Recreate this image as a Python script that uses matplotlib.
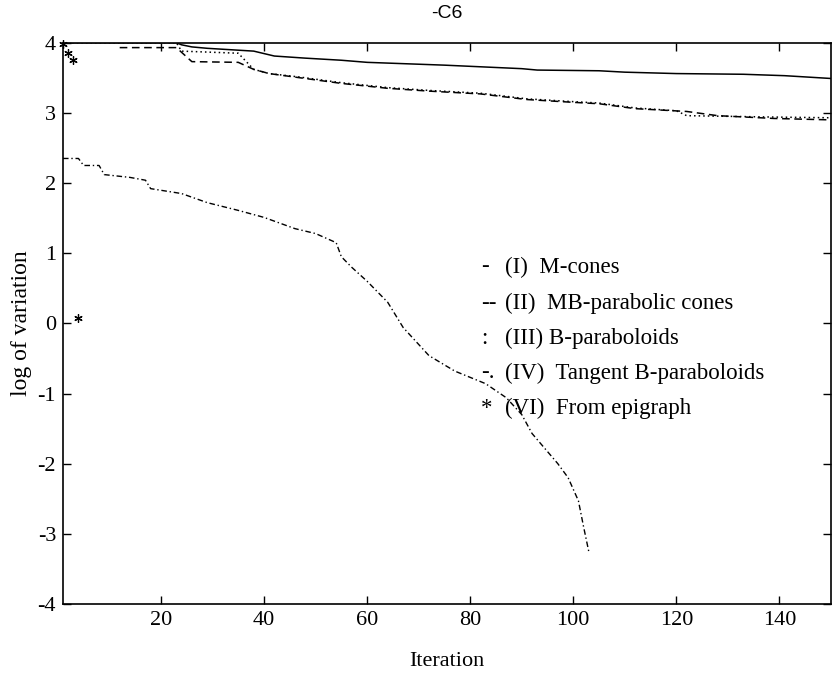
import matplotlib
matplotlib.use("Agg")
import matplotlib.pyplot as plt

plt.rcParams["axes.unicode_minus"] = False

# ---- data ----
iter_I = [1, 23, 24, 26, 29, 38, 42, 48, 55, 60, 75, 90, 93, 105, 110, 120, 133, 141, 150]
var_I = [4.0, 4.0, 3.97, 3.94, 3.92, 3.88, 3.81, 3.78, 3.75, 3.72, 3.68, 3.63, 3.61, 3.60, 3.58, 3.56, 3.55, 3.53, 3.49]

iter_II = [12, 23, 26, 35, 38, 41, 47, 55, 64, 72, 82, 91, 100, 105, 112, 122, 128, 139, 150]
var_II = [3.93, 3.93, 3.73, 3.72, 3.62, 3.56, 3.50, 3.42, 3.35, 3.31, 3.27, 3.19, 3.15, 3.13, 3.06, 3.02, 2.96, 2.92, 2.90]

iter_III = [1, 23, 24, 35, 38, 41, 47, 55, 64, 72, 82, 91, 100, 105, 112, 120, 122, 139, 150]
var_III = [4.0, 4.0, 3.88, 3.85, 3.62, 3.56, 3.51, 3.43, 3.36, 3.32, 3.28, 3.20, 3.16, 3.14, 3.07, 3.03, 2.96, 2.94, 2.93]

iter_IV = [1, 4, 5, 8, 9, 14, 17, 18, 24, 29, 35, 40, 46, 50, 54, 55, 57, 60, 64, 67, 72, 77, 83, 87,
           90, 92, 97, 99, 101, 102, 103]
var_IV = [2.35, 2.35, 2.25, 2.25, 2.12, 2.08, 2.04, 1.92, 1.85, 1.72, 1.61, 1.51, 1.35, 1.28, 1.15, 0.95,
          0.8, 0.6, 0.3, -0.06, -0.46, -0.68, -0.86, -1.06, -1.3, -1.57, -2.0, -2.2, -2.53, -2.9, -3.25]

iter_VI = [1, 2, 3, 4]
var_VI = [3.98, 3.85, 3.75, 0.07]

legend_symbols = ["-", "--", ":", "-.", "*"]
legend_labels = ["(I)  M-cones", "(II)  MB-parabolic cones", "(III) B-paraboloids",
                 "(IV)  Tangent B-paraboloids", "(VI)  From epigraph"]

xticks = [20, 40, 60, 80, 100, 120, 140]
yticks = [-4, -3, -2, -1, 0, 1, 2, 3, 4]

# ---- figure ----
W, H = 837, 681
fig = plt.figure(figsize=(W / 100, H / 100), dpi=100)
serif = ["Liberation Serif", "DejaVu Serif"]
ax = fig.add_axes([63 / W, (H - 604) / H, (831 - 63) / W, (604 - 42.7) / H])

lw = 1.1
ax.plot(iter_I, var_I, color="black", linestyle="-", linewidth=lw)
ax.plot(iter_II, var_II, color="black", linestyle=(0, (5, 3)), linewidth=lw)
ax.plot(iter_III, var_III, color="black", linestyle=(0, (1, 2)), linewidth=lw)
ax.plot(iter_IV, var_IV, color="black", linestyle=(0, (4, 2, 1, 2)), linewidth=1.0)
ax.plot(iter_VI, var_VI, color="black", linestyle="none", marker=(6, 2, 0), markersize=6,
        markeredgewidth=0.9, clip_on=False)

ax.set_xlim(1, 150)
ax.set_ylim(-4, 4)
ax.set_xticks(xticks)
ax.set_yticks(yticks)
ax.tick_params(direction="in", top=True, right=True, length=6, width=1, labelsize=16, pad=5)
for lab in ax.get_xticklabels() + ax.get_yticklabels():
    lab.set_family(serif)
for s in ax.spines.values():
    s.set_linewidth(1.2)

ax.set_xlabel("Iteration", family=serif, fontsize=16, labelpad=16)
ax.set_ylabel("log of variation", family=serif, fontsize=17, labelpad=4)
fig.text(447 / W, 1 - 14 / H, "-C6", family=["Liberation Sans Narrow", "Liberation Sans"],
         fontsize=14, ha="center", va="center")

# legend drawn as text (MATLAB style)
ys = [267, 303, 338, 373, 408]
for sym, lab, yp in zip(legend_symbols, legend_labels, ys):
    fig.text(481 / W, 1 - yp / H, sym, family=serif, fontsize=16.5, ha="left", va="center")
    fig.text(505 / W, 1 - yp / H, lab, family=serif, fontsize=16.5, ha="left", va="center")

fig.savefig("out.png", dpi=100)
